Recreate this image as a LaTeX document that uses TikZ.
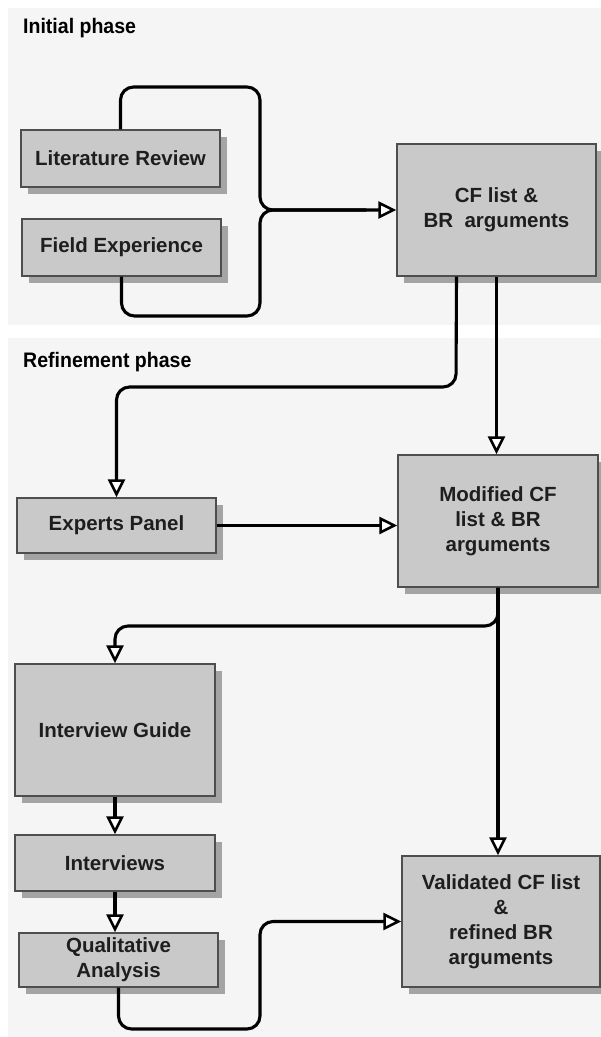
\documentclass[tikz,border=0pt]{standalone}
\usepackage{fontspec}
\setmainfont{Liberation Sans}
\usetikzlibrary{arrows.meta,shadows}

\definecolor{panelbg}{HTML}{F6F5F6}
\definecolor{boxfill}{HTML}{C9C9C9}
\definecolor{boxline}{HTML}{4E4E4E}
\definecolor{boxshadow}{HTML}{A4A4A4}
\definecolor{boxtext}{HTML}{1E1E1E}

\begin{document}
\begin{tikzpicture}[x=1pt,y=-1pt,
  box/.style={draw=boxline, line width=1.4pt, fill=boxfill, text=boxtext,
    font=\bfseries\fontsize{20.5}{25}\selectfont, align=center, inner sep=0pt,
    minimum width=199pt,
    drop shadow={shadow xshift=7pt, shadow yshift=-7pt, fill=boxshadow, opacity=1}},
  conn/.style={line width=3.1pt, black, rounded corners=13pt},
  arr/.style={conn, -{Triangle[length=18pt,width=17pt,line width=2.6pt,fill=white]}},
  phase/.style={font=\bfseries\fontsize{21}{24}\selectfont, anchor=base west,
    inner sep=0pt, text=black}
]
% page and phase panels
\fill[white] (0,0) rectangle (601,1037);
\useasboundingbox (0,0) rectangle (601,1037);
\fill[panelbg] (8,8) rectangle (601,325);
\fill[panelbg] (8,338) rectangle (601,1037);

% phase titles
\node[phase] (tinit) at (23,33) {\scalebox{0.93}[1]{Initial phase}};
\node[phase] (tref) at (23,367) {\scalebox{0.93}[1]{Refinement phase}};

% initial phase boxes
\node[box, minimum height=57pt] (lit) at (120.5,158.5) {Literature Review};
\node[box, minimum height=57pt] (field) at (121.5,247.5) {Field Experience};
\node[box, minimum height=132pt] (cf) at (496.5,210) {CF list \&\\BR\ \ arguments};

% refinement phase boxes
\node[box, minimum height=55pt] (experts) at (116.5,525.5) {Experts Panel};
\node[box, minimum width=200pt, minimum height=132pt] (modified) at (498,521)
  {\raisebox{8pt}{\begin{tabular}{@{}c@{}}Modified CF\\list \& BR\\arguments\end{tabular}}};
\node[box, minimum width=200pt, minimum height=132pt] (ig) at (115,730) {Interview Guide};
\node[box, minimum width=200pt, minimum height=56pt] (interviews) at (115,863) {Interviews};
\node[box, minimum height=54pt] (qa) at (118.5,960) {Qualitative\\Analysis};
\node[box, minimum width=198pt, minimum height=131pt] (validated) at (501,921.5)
  {Validated CF list\\\&\\refined BR\\arguments};

% junction of the two sources
\coordinate (brace) at (260,210);

% connectors
\draw[conn] (field.south) |- (260,316) -- (brace) -- ([xshift=-30pt]cf.west);
\draw[arr] (lit.north) |- (260,87) -- (brace) -- (cf.west);

\draw[arr] ([xshift=-40pt]cf.south) -- (456,387) -| (experts.north);
\draw[arr] (cf.south) -- (cf.south |- modified.north);
\draw[arr] (experts.east) -- (experts.east -| modified.west);

\draw[arr] (modified.south) -- (498,626) -| (ig.north);
\draw[arr] (modified.south) -- (modified.south |- validated.north);

\draw[arr] (ig.south) -- (interviews.north);
\draw[arr] (interviews.south) -- (interviews.south |- qa.north);
\draw[arr] (qa.south) |- (260,1029) |- (validated.west);
\end{tikzpicture}
\end{document}
